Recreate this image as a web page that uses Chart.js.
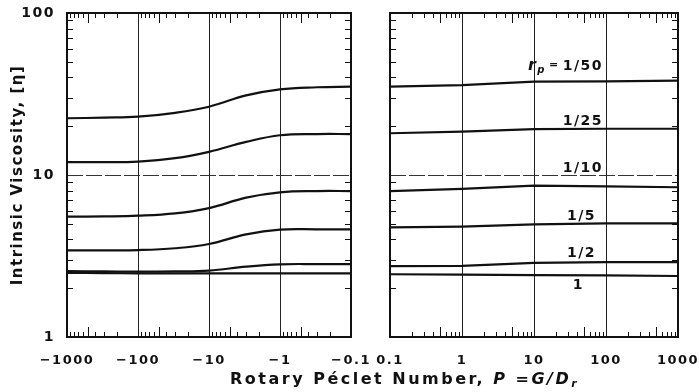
<!DOCTYPE html>
<html>
<head>
<meta charset="utf-8">
<script src="https://cdn.jsdelivr.net/npm/chart.js@4"></script>
<style>
body { margin: 0; background: #fff; }
#wrap { position: relative; width: 699px; height: 392px; }
canvas { position: absolute; left: 0; top: 0; }
#xtitle { position: absolute; left: 230px; top: 369px; font: bold 16px "DejaVu Sans", sans-serif; letter-spacing: 2.5px; color: #111; white-space: nowrap; }
#xtitle sub { font-size: 11px; vertical-align: -3px; line-height: 0; }
</style>
</head>
<body>
<div id="wrap">
  <canvas id="gLeft" width="699" height="392"></canvas>
  <canvas id="gRight" width="699" height="392"></canvas>
  <div id="xtitle">Rotary Péclet Number, <i>P</i> =<i>G/D<sub>r</sub></i></div>
</div>
<script>
// rotary Peclet number, negative side and positive side
const leftP = [-1000, -300, -100, -30, -10, -3, -1, -0.3, -0.1];
const rightP = [0.1, 1, 10, 100, 1000];

const ratioLabels = ['1/50', '1/25', '1/10', '1/5', '1/2', '1'];

// intrinsic viscosity, left panel (P < 0)
const eta50L = [22.4, 22.6, 22.9, 24.2, 26.4, 31.0, 33.8, 34.8, 35.1];
const eta25L = [12.0, 12.0, 12.1, 12.7, 13.9, 16.0, 17.6, 17.9, 17.9];
const eta10L = [5.53, 5.55, 5.61, 5.80, 6.25, 7.25, 7.82, 7.96, 7.96];
const eta5L = [3.43, 3.43, 3.44, 3.53, 3.75, 4.30, 4.60, 4.62, 4.62];
const eta2L = [2.55, 2.54, 2.53, 2.54, 2.57, 2.72, 2.81, 2.82, 2.82];
const eta1L = [2.49, 2.48, 2.47, 2.47, 2.47, 2.47, 2.47, 2.47, 2.47];

// intrinsic viscosity, right panel (P > 0)
const eta50R = [35.1, 35.9, 37.7, 37.8, 38.2];
const eta25R = [18.1, 18.5, 19.2, 19.3, 19.3];
const eta10R = [7.96, 8.20, 8.59, 8.51, 8.40];
const eta5R = [4.75, 4.80, 4.96, 5.03, 5.03];
const eta2R = [2.74, 2.75, 2.87, 2.90, 2.90];
const eta1R = [2.44, 2.43, 2.41, 2.40, 2.38];

const yTicks = [1, 10, 100];
const leftTicks = [-1000, -100, -10, -1, -0.1];
const rightTicks = [0.1, 1, 10, 100, 1000];

const ink = '#111';
Chart.defaults.font.family = '"DejaVu Sans", sans-serif';
Chart.defaults.color = ink;

function pts(xs, ys) { return xs.map((x, i) => ({ x: Math.abs(x), y: ys[i] })); }

function seg(ctx, x1, y1, x2, y2) { ctx.beginPath(); ctx.moveTo(x1, y1); ctx.lineTo(x2, y2); ctx.stroke(); }

function decoPlugin(majors) {
  const absM = majors.map(Math.abs).sort((p, q) => p - q);
  return {
    id: 'deco',
    beforeDraw(chart) { chart.ctx.letterSpacing = '1.5px'; },
    beforeDatasetsDraw(chart) {
      const { ctx, chartArea: a, scales: { x, y } } = chart;
      ctx.save();
      ctx.strokeStyle = '#222'; ctx.lineWidth = 1;
      absM.slice(1, -1).forEach(v => {
        const px = Math.round(x.getPixelForValue(v)) + 0.5;
        seg(ctx, px, a.top, px, a.bottom);
      });
      ctx.strokeStyle = '#333'; ctx.setLineDash([16, 3]);
      const py = Math.round(y.getPixelForValue(10)) + 0.5;
      seg(ctx, a.left, py, a.right, py);
      ctx.restore();
    },
    afterDatasetsDraw(chart) {
      const { ctx, chartArea: a, scales: { x, y } } = chart;
      ctx.save();
      ctx.strokeStyle = ink; ctx.lineWidth = 1;
      for (let i = 0; i < absM.length - 1; i++) {
        for (let k = 2; k <= 9; k++) {
          const px = Math.round(x.getPixelForValue(absM[i] * k)) + 0.5;
          const len = k === 5 ? 10 : 5;
          seg(ctx, px, a.bottom, px, a.bottom - len);
          seg(ctx, px, a.top, px, a.top + len);
        }
      }
      [1, 10].forEach(d => {
        for (let k = 2; k <= 9; k++) {
          const py = Math.round(y.getPixelForValue(d * k)) + 0.5;
          seg(ctx, a.left, py, a.left + 6, py);
          seg(ctx, a.right, py, a.right - 6, py);
        }
      });
      ctx.lineWidth = 2;
      ctx.strokeRect(a.left, a.top, a.right - a.left, a.bottom - a.top);
      ctx.restore();
    }
  };
}

// curve labels on the right panel, anchored to the value at P = 100
const labelShiftY = [-11, -4, -14, -3, -5, 14];
const labelShiftX = [0, 0, 0, -7, -7, -19];
const curveLabels = {
  id: 'curveLabels',
  afterDatasetsDraw(chart) {
    const { ctx, scales: { x, y } } = chart;
    ctx.save();
    ctx.fillStyle = ink;
    ctx.textAlign = 'right';
    ctx.textBaseline = 'alphabetic';
    ctx.letterSpacing = '1.5px';
    chart.data.datasets.forEach((ds, i) => {
      const xr = x.getPixelForValue(100) - 3 + labelShiftX[i];
      const py = y.getPixelForValue(ds.data[3].y) + labelShiftY[i];
      ctx.font = 'bold 14px "DejaVu Sans"';
      ctx.fillText(ratioLabels[i], xr, py);
      if (i === 0) {
        let xx = xr - ctx.measureText(ratioLabels[i]).width - 3;
        ctx.font = 'bold 11px "DejaVu Sans"';
        ctx.fillText('=', xx, py - 2);
        xx -= ctx.measureText('=').width + 3;
        ctx.font = 'italic bold 10px "DejaVu Sans"';
        ctx.fillText('p', xx, py + 3);
        xx -= ctx.measureText('p').width;
        ctx.font = 'italic bold 16px "DejaVu Sans"';
        ctx.fillText('r', xx, py);
      }
    });
    ctx.restore();
  }
};

function lines(xs, series, smooth) {
  return series.map(s => ({
    data: pts(xs, s),
    borderColor: ink,
    borderWidth: 2.2,
    pointRadius: 0,
    fill: false,
    tension: smooth ? 0.4 : 0
  }));
}

function xScale(ticks, neg) {
  return {
    type: 'logarithmic', min: 0.1, max: 1000, reverse: neg,
    afterBuildTicks: s => { s.ticks = ticks.map(v => ({ value: Math.abs(v) })); },
    afterFit: s => { s.height = 55; s.paddingLeft = 0; s.paddingRight = 0; },
    grid: { display: false }, border: { display: false },
    ticks: { autoSkip: false, maxRotation: 0, padding: 8, color: ink, font: { size: 13, weight: 'bold' },
             callback: v => (neg ? '−' : '') + v }
  };
}

new Chart(document.getElementById('gLeft'), {
  type: 'line',
  data: { datasets: lines(leftP, [eta50L, eta25L, eta10L, eta5L, eta2L, eta1L], true) },
  options: {
    responsive: false, animation: false, devicePixelRatio: 1,
    layout: { padding: { left: 5, right: 348, top: 13, bottom: 0 } },
    plugins: { legend: { display: false }, tooltip: { enabled: false } },
    scales: {
      x: xScale(leftTicks, true),
      y: {
        type: 'logarithmic', min: 1, max: 100,
        afterBuildTicks: s => { s.ticks = yTicks.map(v => ({ value: v })); },
        afterFit: s => { s.width = 62; s.paddingTop = 0; s.paddingBottom = 0; },
        grid: { display: false }, border: { display: false },
        ticks: { padding: 4, color: ink, font: { size: 14, weight: 'bold' }, callback: v => String(v) },
        title: { display: true, text: 'Intrinsic Viscosity, [η]', color: ink, font: { size: 15, weight: 'bold' } }
      }
    }
  },
  plugins: [decoPlugin(leftTicks)]
});

new Chart(document.getElementById('gRight'), {
  type: 'line',
  data: { datasets: lines(rightP, [eta50R, eta25R, eta10R, eta5R, eta2R, eta1R], false) },
  options: {
    responsive: false, animation: false, devicePixelRatio: 1,
    layout: { padding: { left: 390, right: 21, top: 13, bottom: 0 } },
    plugins: { legend: { display: false }, tooltip: { enabled: false } },
    scales: {
      x: xScale(rightTicks, false),
      y: { type: 'logarithmic', min: 1, max: 100, display: false }
    }
  },
  plugins: [decoPlugin(rightTicks), curveLabels]
});
</script>
</body>
</html>
